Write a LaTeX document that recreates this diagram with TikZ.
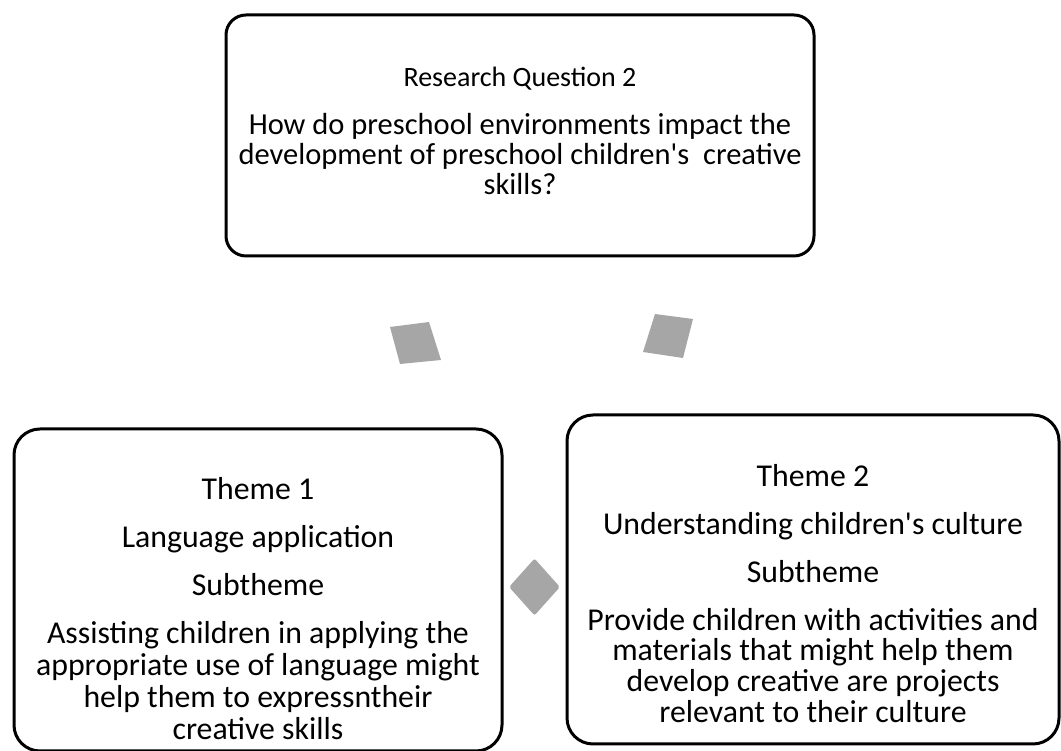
\documentclass[tikz,border=0pt]{standalone}
\usepackage{fontspec}
\setmainfont{Carlito}
\usetikzlibrary{shapes.geometric}
\definecolor{conn}{RGB}{166,166,166}
\newcommand{\sq}{\textquotesingle}
\begin{document}
\begin{tikzpicture}[x=1pt,y=1pt,
  box/.style={draw=black, line width=3pt, rounded corners=#1, fill=white, inner sep=0pt},
  ttl/.style={anchor=base, inner sep=0pt, font=\fontsize{28}{30}\selectfont},
  bodytop/.style={anchor=base, inner sep=0pt, font=\fontsize{30.5}{31}\selectfont},
  bodybot/.style={anchor=base, inner sep=0pt, font=\fontsize{31.8}{31}\selectfont},
  conndia/.style={fill=conn, draw=none, inner sep=0pt, shape=diamond, minimum width=51pt, minimum height=57pt, rounded corners=2pt}
]
\useasboundingbox (0,0) rectangle (1061,751);
% boxes
\node[box=20pt, minimum width=588pt, minimum height=241pt] (rq) at (520,615.5) {};
\node[box=26pt, minimum width=488pt, minimum height=322pt] (th1) at (258,161) {};
\node[box=26pt, minimum width=492pt, minimum height=329pt] (th2) at (813,171.5) {};
% research question texts
\node[ttl] (rq1) at (520,664.5) {Research Question 2};
\node[bodytop] (rq2) at (520,616) {How do preschool environments impact the};
\node[bodytop] (rq3) at (520,586) {development of preschool children\sq s\ \ creative};
\node[bodytop] (rq4) at (520,556) {skills?};
% theme 1 texts
\node[bodybot] (a1) at (258,251) {Theme 1};
\node[bodybot] (a2) at (258,203) {Language application};
\node[bodybot] (a3) at (258,155) {Subtheme};
\node[bodybot] (a4) at (258,107) {Assisting children in applying the};
\node[bodybot] (a5) at (258,75) {appropriate use of language might};
\node[bodybot] (a6) at (258,43) {help them to expressntheir};
\node[bodybot] (a7) at (258,11) {creative skills};
% theme 2 texts
\node[bodybot] (b1) at (813,264) {Theme 2};
\node[bodybot] (b2) at (813,216) {Understanding children\sq s culture};
\node[bodybot] (b3) at (813,168) {Subtheme};
\node[bodybot] (b4) at (813,120) {Provide children with activities and};
\node[bodybot] (b5) at (813,90) {materials that might help them};
\node[bodybot] (b6) at (813,59) {develop creative are projects};
\node[bodybot] (b7) at (813,28) {relevant to their culture};
% connectors (shapes)
\fill[conn] (390,424) -- (429,429) -- (441,391) -- (400,387) -- cycle;
\fill[conn] (655,437) -- (693,432) -- (683,393) -- (643,399) -- cycle;
\node[conndia] (c3) at (534.5,164) {};
\end{tikzpicture}
\end{document}
